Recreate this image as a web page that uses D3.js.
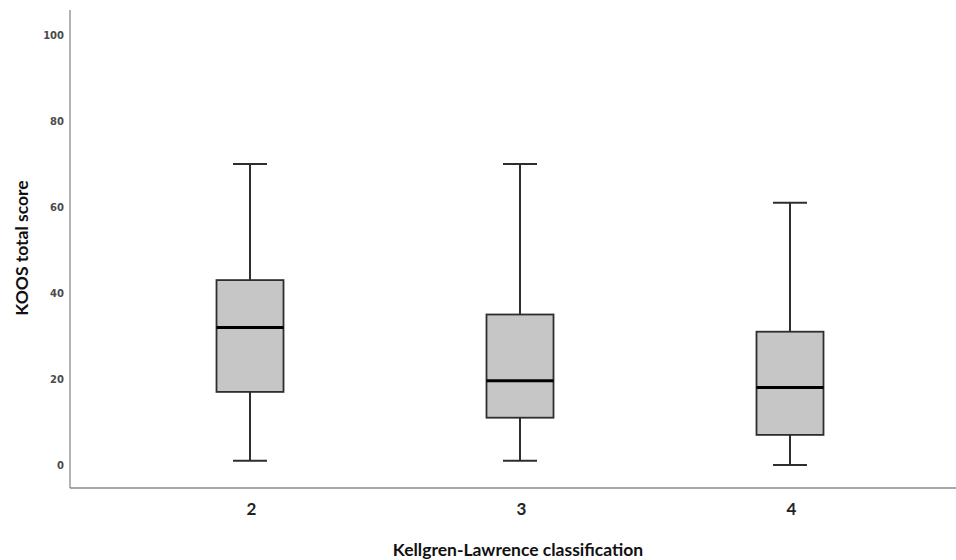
<!DOCTYPE html>
<html><head><meta charset="utf-8">
<script src="https://cdn.jsdelivr.net/npm/d3@7"></script>
<style>body{margin:0;background:#fff}svg{display:block}</style>
</head><body>
<script>
const categories = ["2", "3", "4"];
const whiskerLow = [1, 1, 0];
const q1 = [17, 11, 7];
const median = [32, 19.6, 18];
const q3 = [43, 35, 31];
const whiskerHigh = [70, 70, 61];
const yTicks = [0, 20, 40, 60, 80, 100];

const W = 956, H = 560;
const svg = d3.select("body").append("svg").attr("width", W).attr("height", H);

const y = d3.scaleLinear().domain([0, 100]).range([465, 35]);
const x = d3.scalePoint().domain(categories).range([70, 970]).padding(0.6667);

const yTop = y(105.8), yBot = y(-5.35);
svg.append("line").attr("x1", 70).attr("x2", 70).attr("y1", yTop).attr("y2", yBot)
  .attr("stroke", "#8a8a8a").attr("stroke-width", 1.3);
svg.append("line").attr("x1", 70).attr("x2", W).attr("y1", yBot).attr("y2", yBot)
  .attr("stroke", "#8a8a8a").attr("stroke-width", 1.3);

const yAxis = d3.axisLeft(y).tickValues(yTicks).tickSize(0).tickPadding(6);
const gy = svg.append("g").attr("transform", "translate(70,0)").call(yAxis);
gy.select(".domain").remove();
gy.selectAll("text").attr("font-family", "DejaVu Sans").attr("font-size", 10)
  .attr("font-weight", "bold").attr("fill", "#4a4a4a");

const xAxis = d3.axisBottom(x).tickSize(0).tickPadding(15);
const gx = svg.append("g").attr("transform", `translate(1,${yBot})`).call(xAxis);
gx.select(".domain").remove();
gx.selectAll("text").attr("font-family", "Lato").attr("font-size", 17)
  .attr("font-weight", "bold").attr("fill", "#222");

svg.append("text").attr("x", 518).attr("y", 556).attr("text-anchor", "middle")
  .attr("font-family", "Lato").attr("font-weight", "bold").attr("font-size", 17.5)
  .attr("fill", "#111").text("Kellgren-Lawrence classification");
svg.append("text").attr("transform", "translate(28,248) rotate(-90)").attr("text-anchor", "middle")
  .attr("font-family", "Lato").attr("font-weight", "bold").attr("font-size", 17.5)
  .attr("fill", "#111").text("KOOS total score");

const boxW = 67, capW = 34;
categories.forEach((c, i) => {
  const cx = x(c);
  const g = svg.append("g");
  const st = "#2e2e2e";
  g.append("line").attr("x1", cx).attr("x2", cx).attr("y1", y(whiskerHigh[i])).attr("y2", y(q3[i]))
    .attr("stroke", st).attr("stroke-width", 2);
  g.append("line").attr("x1", cx).attr("x2", cx).attr("y1", y(q1[i])).attr("y2", y(whiskerLow[i]))
    .attr("stroke", st).attr("stroke-width", 2);
  [whiskerHigh[i], whiskerLow[i]].forEach(v => {
    g.append("line").attr("x1", cx - capW / 2).attr("x2", cx + capW / 2).attr("y1", y(v)).attr("y2", y(v))
      .attr("stroke", st).attr("stroke-width", 2);
  });
  g.append("rect").attr("x", cx - boxW / 2).attr("width", boxW)
    .attr("y", y(q3[i])).attr("height", y(q1[i]) - y(q3[i]))
    .attr("fill", "#c6c6c6").attr("stroke", st).attr("stroke-width", 1.8);
  g.append("line").attr("x1", cx - boxW / 2).attr("x2", cx + boxW / 2).attr("y1", y(median[i])).attr("y2", y(median[i]))
    .attr("stroke", "#000").attr("stroke-width", 3);
});
</script>
</body></html>
